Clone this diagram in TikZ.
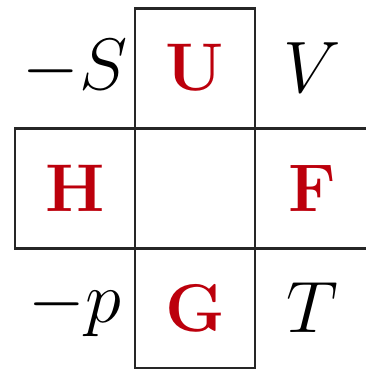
\documentclass[tikz,border=0pt]{standalone}
\usepackage{xcolor}
\definecolor{potred}{RGB}{188,0,12}
\begin{document}
\begin{tikzpicture}[x=1cm,y=1cm,
  frame/.style={draw=black!85, line width=0.7pt},
  lbl/.style={font=\fontsize{16}{18}\selectfont, inner sep=0pt},
  pot/.style={lbl, text=potred, font=\fontsize{16}{18}\selectfont\bfseries}]
\useasboundingbox (-0.125,-0.008) rectangle (2.917,3.067);
\draw[frame] (1,0) rectangle (2,3);
\draw[frame] (0,1) rectangle (3,2);
\node[lbl] (mS) at (0.5,2.5) {$-S$};
\node[pot] (U) at (1.5,2.5) {U};
\node[lbl] (V) at (2.48,2.5) {$V$};
\node[pot] (H) at (0.5,1.5) {H};
\node[pot] (F) at (2.48,1.5) {F};
\node[lbl] (mp) at (0.5,0.5) {$-p$};
\node[pot] (G) at (1.5,0.5) {G};
\node[lbl] (T) at (2.48,0.5) {$T$};
\end{tikzpicture}
\end{document}
